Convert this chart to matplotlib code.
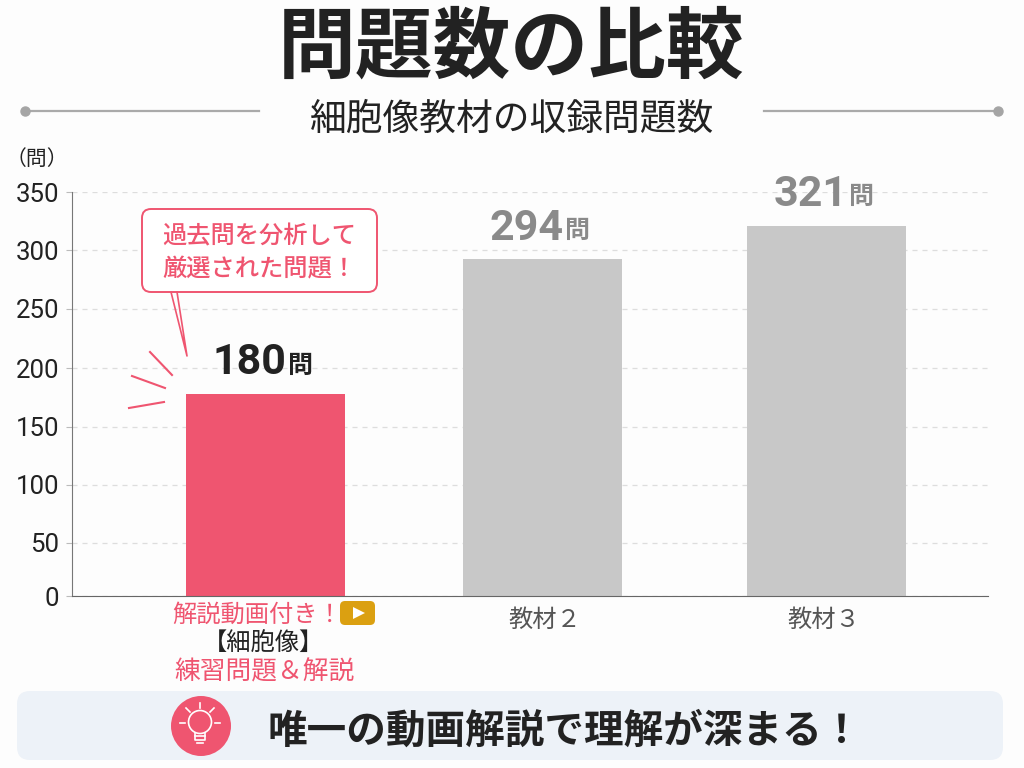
import matplotlib
matplotlib.use('Agg')
import matplotlib.pyplot as plt
import numpy as np
from matplotlib.patches import Circle, FancyBboxPatch, Polygon

plt.rcParams['font.family'] = ['Noto Sans CJK JP', 'DejaVu Sans']

bar_values = [178, 292, 321]
shown_values = [180, 294, 321]
unit = '問'
tick_values = [0, 50, 100, 150, 200, 250, 300, 350]
title = '問題数の比較'
subtitle = '細胞像教材の収録問題数'
unit_label = '（問）'
other_categories = ['教材２', '教材３']
first_category = ['解説動画付き！', '【細胞像】', '練習問題＆解説']
callout_lines = ['過去問を分析して', '厳選された問題！']
banner = '唯一の動画解説で理解が深まる！'

RED = '#ef5570'
GREY_BAR = '#c8c8c8'
GREY_TEXT = '#8a8a8a'
DARK = '#222222'
BG = '#fdfdfd'

# the picture's gridlines are not quite evenly spaced, so the scale follows them
tick_heights = [0, 53, 111, 169, 228, 287, 346, 404]


def forward(v):
    return np.interp(v, tick_values, tick_heights)


def inverse(h):
    return np.interp(h, tick_heights, tick_values)


fig = plt.figure(figsize=(10.24, 7.68), dpi=100, facecolor=BG)
ax = fig.add_axes([72 / 1024, 172 / 768, 916 / 1024, 404 / 768], facecolor='none')
ax.set_xlim(72, 988)
ax.set_yscale('function', functions=(forward, inverse))
ax.set_ylim(0, 350)

bar_x = [265, 542, 826]
ax.bar(bar_x, bar_values, width=159, color=[RED, GREY_BAR, GREY_BAR], zorder=2)

ax.set_yticks(tick_values)
ax.set_yticklabels([str(v) for v in tick_values], family='Roboto', fontsize=18.5, color=DARK)
ax.tick_params(axis='y', length=4.5, width=0.8, color='#bbbbbb', pad=4.5)
ax.set_xticks([545, 824])
ax.set_xticklabels(other_categories, fontsize=17.5, color='#555555')
ax.tick_params(axis='x', length=0, pad=8)
ax.minorticks_off()
ax.grid(axis='y', color='#dddddd', linestyle=(0, (4, 4)), linewidth=0.9)
ax.set_axisbelow(True)
for side in ['top', 'right']:
    ax.spines[side].set_visible(False)
ax.spines['left'].set_color('#777777')
ax.spines['bottom'].set_color('#666666')

# value labels: number plus small unit
for x, h, v, col in zip(bar_x, bar_values, shown_values, [DARK, GREY_TEXT, GREY_TEXT]):
    ax.annotate(str(v), (x, h), xytext=(15.5, 22.5), textcoords='offset points', ha='right', va='center',
                family='Roboto', fontsize=31, weight='bold', color=col)
    ax.annotate(unit, (x, h), xytext=(16.5, 20.5), textcoords='offset points', ha='left', va='center',
                fontsize=18, weight='bold', color=col)

# everything else sits on an overlay in pixel coordinates
ov = fig.add_axes([0, 0, 1, 1], facecolor='none')
ov.set_xlim(0, 1024)
ov.set_ylim(768, 0)
ov.axis('off')

ov.text(511, 49, title, ha='center', va='center', fontsize=56, weight='bold', color=DARK)
ov.text(512, 119, subtitle, ha='center', va='center', fontsize=26.5, color=DARK)
for x0, x1, dot in [(25, 259, 25), (764, 998, 998)]:
    ov.plot([x0, x1], [111, 111], color='#aaaaaa', lw=1.6)
    ov.plot([dot], [111], 'o', color='#a5a5a5', ms=6.5)
ov.text(37, 159, unit_label, ha='center', va='center', fontsize=15, color=DARK)

# callout
ov.add_patch(FancyBboxPatch((150, 217), 219, 67, boxstyle='round,pad=8,rounding_size=9',
                            fc='white', ec=RED, lw=1.4))
ov.plot([171, 187, 177], [292, 356, 292], color=RED, lw=1.2)
for y, line in zip([236, 269], callout_lines):
    ov.text(259, y, line, ha='center', va='center', fontsize=17.5, weight='medium', color=RED)
for (x0, y0, x1, y1) in [(150, 352, 172, 375), (132, 376, 165, 388), (129, 408, 164, 402)]:
    ov.plot([x0, x1], [y0, y1], color=RED, lw=1.5)

# first category, three lines
ov.text(172, 615, first_category[0], ha='left', va='center', fontsize=17.5, color=RED)
ov.text(263, 644, first_category[1], ha='center', va='center', fontsize=17.5, color=DARK)
ov.text(264, 672, first_category[2], ha='center', va='center', fontsize=18.5, color=RED)
ov.add_patch(FancyBboxPatch((344, 605), 27, 16, boxstyle='round,pad=4,rounding_size=5', fc='#dba011', ec='none'))
ov.add_patch(Polygon([(353, 607), (365, 613), (353, 619)], closed=True, fc='white', ec='none'))

# bottom banner
ov.add_patch(FancyBboxPatch((29, 703), 962, 45, boxstyle='round,pad=12,rounding_size=13', fc='#edf2f8', ec='none'))
ov.add_patch(Circle((201, 726), 30, fc=RED, ec='none'))
ov.add_patch(Circle((200, 722), 11.5, fc='none', ec='white', lw=1.2))
ov.plot([195, 195, 205, 205], [733, 740, 740, 733], color='white', lw=1.2)
ov.plot([195, 205], [736, 736], color='white', lw=1.2)
ov.plot([197, 203], [743, 743], color='white', lw=1.2)
for (x0, y0, x1, y1) in [(200, 703, 200, 708), (186, 708, 190, 712), (214, 708, 210, 712), (180, 723, 185, 723), (215, 723, 220, 723)]:
    ov.plot([x0, x1], [y0, y1], color='white', lw=1.2)
ov.text(268, 731, banner, ha='left', va='center', fontsize=28.5, weight='bold', color=DARK)

fig.savefig('out.png', dpi=100, facecolor=BG)
